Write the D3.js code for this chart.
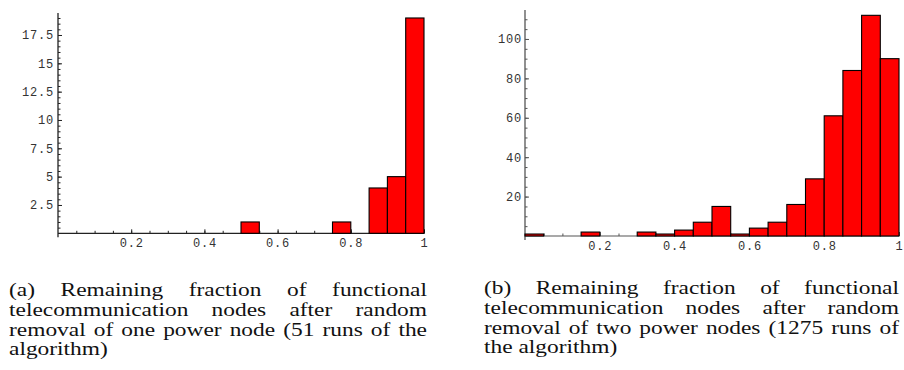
<!DOCTYPE html>
<html>
<head>
    <title>Remaining fraction histograms</title>
    <script src="https://cdn.jsdelivr.net/npm/d3@7"></script>
    <style>
        body { margin: 0; background: white; }
        #wrap { position: relative; width: 904px; height: 370px; overflow: hidden; }
        svg { position: absolute; left: 0; top: 0; }
        .caption {
            position: absolute;
            font-family: "Liberation Serif", serif;
            font-size: 18px;
            line-height: 19.8px;
            color: #111;
            transform: scaleX(1.3);
            transform-origin: 0 0;
            white-space: nowrap;
        }
        .caption .j { text-align: justify; text-align-last: justify; }
    </style>
</head>
<body>
    <div id="wrap"></div>
    <script>
        // bins of width 0.05 from 0 to 1
        const binStarts = d3.range(20).map(i => i * 0.05);
        // (a) one power node removed
        const countsA = [0, 0, 0, 0, 0, 0, 0, 0, 0, 0, 1, 0, 0, 0, 0, 1, 0, 4, 5, 19];
        // (b) two power nodes removed
        const countsB = [1, 0, 0, 2, 0, 0, 2, 1, 3, 7, 15, 1, 4, 7, 16, 29, 61, 84, 112, 90];

        const xTicks = [0.2, 0.4, 0.6, 0.8, 1];
        const yTicksA = [2.5, 5, 7.5, 10, 12.5, 15, 17.5];
        const yTicksB = [20, 40, 60, 80, 100];

        const captionA = ["(a) Remaining fraction of functional",
            "telecommunication nodes after random",
            "removal of one power node (51 runs of the",
            "algorithm)"];
        const captionB = ["(b) Remaining fraction of functional",
            "telecommunication nodes after random",
            "removal of two power nodes (1275 runs of",
            "the algorithm)"];

        const svg = d3.select("#wrap").append("svg")
            .attr("width", 904)
            .attr("height", 370);

        function histogram(cfg) {
            const x = d3.scaleLinear().domain([0, 1]).range(cfg.xr);
            const y = d3.scaleLinear().domain([0, cfg.ymax]).range(cfg.yr);
            const g = svg.append("g");

            // minor ticks first, bars cover them
            const minorX = d3.axisBottom(x).tickValues(d3.range(1, 21).map(i => i * 0.05))
                .tickSize(-2.5).tickFormat("");
            g.append("g").attr("transform", `translate(0,${y(0)})`).call(minorX)
                .call(a => a.select(".domain").remove());
            const minorY = d3.axisLeft(y).tickValues(d3.range(cfg.minor, cfg.ymax, cfg.minor))
                .tickSize(-2.5).tickFormat("");
            g.append("g").attr("transform", `translate(${x(0)},0)`).call(minorY)
                .call(a => a.select(".domain").remove());

            const xAxis = d3.axisBottom(x).tickValues(xTicks).tickSize(-4).tickPadding(5)
                .tickFormat(d => d === 1 ? "1" : d3.format(".1f")(d));
            g.append("g").attr("class", "ax").attr("transform", `translate(0,${y(0)})`).call(xAxis)
                .call(a => a.select(".domain").remove());
            const yAxis = d3.axisLeft(y).tickValues(cfg.yticks).tickSize(-4).tickPadding(cfg.pad)
                .tickFormat(d => String(d));
            g.append("g").attr("class", "ax").attr("transform", `translate(${x(0)},0)`).call(yAxis)
                .call(a => a.select(".domain").remove());

            g.selectAll(".tick line").attr("stroke", cfg.axisColor).attr("stroke-width", 1);
            g.selectAll(".ax text")
                .attr("font-family", "'Liberation Mono', monospace")
                .attr("font-size", 12)
                .attr("letter-spacing", 0.8)
                .attr("fill", "#333");

            // axis lines
            g.append("line")
                .attr("x1", x(0)).attr("x2", x(1))
                .attr("y1", y(0)).attr("y2", y(0))
                .attr("stroke", cfg.axisColor).attr("stroke-width", 1.2);
            g.append("line")
                .attr("x1", x(0)).attr("x2", x(0))
                .attr("y1", y(cfg.ymax)).attr("y2", y(0) + 4)
                .attr("stroke", cfg.axisColor).attr("stroke-width", 1.3);

            // bars
            g.append("g").selectAll("rect")
                .data(cfg.counts)
                .join("rect")
                .attr("x", (d, i) => x(binStarts[i]))
                .attr("width", (d, i) => x(binStarts[i] + 0.05) - x(binStarts[i]))
                .attr("y", d => y(d))
                .attr("height", d => y(0) - y(d))
                .attr("fill", "#ff0000")
                .attr("stroke", "#000")
                .attr("stroke-width", 1.1);
        }

        histogram({ counts: countsA, xr: [58, 424], yr: [233.3, 13], ymax: 19.44,
            yticks: yTicksA, minor: 0.5, pad: 4, axisColor: "#222" });
        histogram({ counts: countsB, xr: [525, 899], yr: [236, 10], ymax: 114.7,
            yticks: yTicksB, minor: 5, pad: 3, axisColor: "#555" });

        function caption(lines, left, top, width) {
            const div = d3.select("#wrap").append("div")
                .attr("class", "caption")
                .style("left", left + "px")
                .style("top", top + "px")
                .style("width", (width / 1.3) + "px");
            div.selectAll("div")
                .data(lines)
                .join("div")
                .attr("class", (d, i) => i < lines.length - 1 ? "j" : null)
                .text(d => d);
        }
        caption(captionA, 9, 281, 418);
        caption(captionB, 484, 279, 415);
    </script>
</body>
</html>
